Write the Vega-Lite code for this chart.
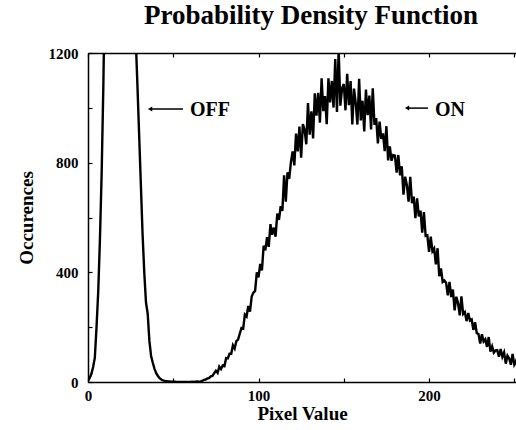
{
  "$schema": "https://vega.github.io/schema/vega-lite/v6.json",
  "width": 428,
  "height": 329,
  "autosize": {"type": "none"},
  "padding": {"left": 88, "top": 53, "right": 0, "bottom": 48},
  "background": "white",
  "title": {
    "text": "Probability Density Function",
    "font": "Liberation Serif",
    "fontSize": 27,
    "fontWeight": "bold",
    "color": "black",
    "anchor": "middle",
    "baseline": "alphabetic",
    "offset": -5,
    "dx": 9
  },
  "config": {
    "view": {"stroke": null},
    "axis": {
      "grid": false,
      "domainColor": "black",
      "domainWidth": 1.5,
      "tickColor": "black",
      "tickWidth": 1.2,
      "tickSize": -4,
      "labelFont": "Liberation Serif",
      "labelFontWeight": "bold",
      "labelFontSize": 15,
      "labelColor": "black",
      "titleFont": "Liberation Serif",
      "titleFontWeight": "bold",
      "titleFontSize": 19,
      "titleColor": "black",
      "labelOverlap": false,
      "labelFlush": false
    }
  },
  "datasets": {
    "hist": [
      {"x":0,"y":5},{"x":1,"y":15},{"x":2,"y":30},{"x":3,"y":55},{"x":4,"y":88},{"x":5,"y":200},{"x":6,"y":330},{"x":7,"y":520},{"x":8,"y":760},{"x":9,"y":1080},
      {"x":10,"y":1500},{"x":11,"y":2000},{"x":12,"y":2600},{"x":13,"y":3200},{"x":14,"y":3800},{"x":15,"y":4300},{"x":16,"y":4600},{"x":17,"y":4800},{"x":18,"y":4800},{"x":19,"y":4600},
      {"x":20,"y":4300},{"x":21,"y":3900},{"x":22,"y":3400},{"x":23,"y":2900},{"x":24,"y":2400},{"x":25,"y":2000},{"x":26,"y":1700},{"x":27,"y":1450},{"x":28,"y":1250},{"x":29,"y":1080},
      {"x":30,"y":900},{"x":31,"y":720},{"x":32,"y":540},{"x":33,"y":400},{"x":34,"y":290},{"x":35,"y":250},{"x":36,"y":150},{"x":37,"y":95},{"x":38,"y":70},{"x":39,"y":48},
      {"x":40,"y":32},{"x":41,"y":22},{"x":42,"y":14},{"x":43,"y":9},{"x":44,"y":6},{"x":45,"y":4},{"x":46,"y":3},{"x":47,"y":2},{"x":48,"y":2},{"x":49,"y":1},
      {"x":50,"y":1},{"x":51,"y":1},{"x":52,"y":0},{"x":53,"y":0},{"x":54,"y":0},{"x":55,"y":0},{"x":56,"y":0},{"x":57,"y":0},{"x":58,"y":0},{"x":59,"y":0},
      {"x":60,"y":0},{"x":61,"y":1},{"x":62,"y":0},{"x":63,"y":1},{"x":64,"y":2},{"x":65,"y":1},{"x":66,"y":2},{"x":67,"y":4},{"x":68,"y":8},{"x":69,"y":9},
      {"x":70,"y":13},{"x":71,"y":14},{"x":72,"y":21},{"x":73,"y":22},{"x":74,"y":32},{"x":75,"y":41},{"x":76,"y":33},{"x":77,"y":56},{"x":78,"y":47},{"x":79,"y":60},
      {"x":80,"y":58},{"x":81,"y":87},{"x":82,"y":86},{"x":83,"y":103},{"x":84,"y":103},{"x":85,"y":134},{"x":86,"y":122},{"x":87,"y":149},{"x":88,"y":155},{"x":89,"y":176},
      {"x":90,"y":197},{"x":91,"y":195},{"x":92,"y":246},{"x":93,"y":239},{"x":94,"y":277},{"x":95,"y":257},{"x":96,"y":312},{"x":97,"y":326},{"x":98,"y":332},{"x":99,"y":400},
      {"x":100,"y":382},{"x":101,"y":431},{"x":102,"y":407},{"x":103,"y":497},{"x":104,"y":480},{"x":105,"y":528},{"x":106,"y":493},{"x":107,"y":576},{"x":108,"y":537},{"x":109,"y":563},
      {"x":110,"y":530},{"x":111,"y":614},{"x":112,"y":591},{"x":113,"y":641},{"x":114,"y":624},{"x":115,"y":754},{"x":116,"y":658},{"x":117,"y":765},{"x":118,"y":741},{"x":119,"y":802},
      {"x":120,"y":841},{"x":121,"y":790},{"x":122,"y":906},{"x":123,"y":841},{"x":124,"y":932},{"x":125,"y":818},{"x":126,"y":941},{"x":127,"y":921},{"x":128,"y":867},{"x":129,"y":1017},
      {"x":130,"y":902},{"x":131,"y":987},{"x":132,"y":888},{"x":133,"y":1053},{"x":134,"y":971},{"x":135,"y":1055},{"x":136,"y":946},{"x":137,"y":1108},{"x":138,"y":988},{"x":139,"y":1043},
      {"x":140,"y":940},{"x":141,"y":1108},{"x":142,"y":1020},{"x":143,"y":1098},{"x":144,"y":1001},{"x":145,"y":1178},{"x":146,"y":985},{"x":147,"y":1213},{"x":148,"y":1008},{"x":149,"y":1071},
      {"x":150,"y":1087},{"x":151,"y":991},{"x":152,"y":1124},{"x":153,"y":1010},{"x":154,"y":1098},{"x":155,"y":939},{"x":156,"y":1070},{"x":157,"y":1017},{"x":158,"y":939},{"x":159,"y":1106},
      {"x":160,"y":954},{"x":161,"y":1026},{"x":162,"y":914},{"x":163,"y":1067},{"x":164,"y":973},{"x":165,"y":1045},{"x":166,"y":921},{"x":167,"y":1071},{"x":168,"y":938},{"x":169,"y":963},
      {"x":170,"y":870},{"x":171,"y":950},{"x":172,"y":887},{"x":173,"y":907},{"x":174,"y":842},{"x":175,"y":933},{"x":176,"y":808},{"x":177,"y":859},{"x":178,"y":807},{"x":179,"y":828},
      {"x":180,"y":826},{"x":181,"y":764},{"x":182,"y":828},{"x":183,"y":754},{"x":184,"y":787},{"x":185,"y":683},{"x":186,"y":749},{"x":187,"y":718},{"x":188,"y":658},{"x":189,"y":748},
      {"x":190,"y":652},{"x":191,"y":676},{"x":192,"y":598},{"x":193,"y":670},{"x":194,"y":604},{"x":195,"y":625},{"x":196,"y":545},{"x":197,"y":620},{"x":198,"y":533},{"x":199,"y":535},
      {"x":200,"y":475},{"x":201,"y":530},{"x":202,"y":477},{"x":203,"y":487},{"x":204,"y":429},{"x":205,"y":488},{"x":206,"y":386},{"x":207,"y":414},{"x":208,"y":365},{"x":209,"y":370},
      {"x":210,"y":362},{"x":211,"y":316},{"x":212,"y":365},{"x":213,"y":310},{"x":214,"y":337},{"x":215,"y":261},{"x":216,"y":311},{"x":217,"y":288},{"x":218,"y":243},{"x":219,"y":312},
      {"x":220,"y":248},{"x":221,"y":255},{"x":222,"y":222},{"x":223,"y":252},{"x":224,"y":224},{"x":225,"y":228},{"x":226,"y":190},{"x":227,"y":218},{"x":228,"y":178},{"x":229,"y":175},
      {"x":230,"y":140},{"x":231,"y":174},{"x":232,"y":148},{"x":233,"y":156},{"x":234,"y":128},{"x":235,"y":164},{"x":236,"y":111},{"x":237,"y":130},{"x":238,"y":107},{"x":239,"y":115},
      {"x":240,"y":116},{"x":241,"y":92},{"x":242,"y":120},{"x":243,"y":92},{"x":244,"y":108},{"x":245,"y":67},{"x":246,"y":96},{"x":247,"y":86},{"x":248,"y":63},{"x":249,"y":102},
      {"x":250,"y":64},{"x":251,"y":77},{"x":252,"y":49},{"x":253,"y":84},{"x":254,"y":62},{"x":255,"y":75}
    ],
    "arrows": [
      {"x1": 36.4, "x2": 55.7, "y": 996},
      {"x1": 187.1, "x2": 199.4, "y": 999}
    ],
    "labels": [
      {"x": 59.8, "y": 970, "t": "OFF"},
      {"x": 203.5, "y": 970, "t": "ON"}
    ]
  },
  "layer": [
    {
      "data": {"name": "hist"},
      "mark": {"type": "line", "color": "black", "strokeWidth": 2.4, "clip": true},
      "encoding": {
        "x": {
          "field": "x", "type": "quantitative",
          "scale": {"domain": [0, 251], "nice": false, "zero": false},
          "axis": {
            "orient": "bottom",
            "title": "Pixel Value",
            "values": [0, 50, 100, 150, 200, 250],
            "labelExpr": "datum.value % 100 == 0 ? datum.label : ''",
            "labelPadding": 10,
            "titlePadding": 1
          }
        },
        "y": {
          "field": "y", "type": "quantitative",
          "scale": {"domain": [0, 1200], "nice": false},
          "axis": {
            "title": "Occurences",
            "values": [0, 200, 400, 600, 800, 1000, 1200],
            "format": "d",
            "labelExpr": "datum.value % 400 == 0 ? datum.label : ''",
            "labelPadding": 14,
            "titlePadding": 12
          }
        }
      }
    },
    {
      "data": {"name": "arrows"},
      "mark": {"type": "rule", "color": "black", "strokeWidth": 1.5},
      "encoding": {
        "x": {
          "field": "x1", "type": "quantitative",
          "axis": {
            "orient": "top",
            "title": null,
            "labels": false,
            "values": [0, 50, 100, 150, 200, 250]
          }
        },
        "x2": {"field": "x2"},
        "y": {"field": "y", "type": "quantitative"}
      }
    },
    {
      "data": {"name": "arrows"},
      "mark": {"type": "point", "shape": "triangle-left", "filled": true, "color": "black", "size": 25, "opacity": 1},
      "encoding": {
        "x": {"field": "x1", "type": "quantitative", "axis": null},
        "y": {"field": "y", "type": "quantitative"}
      }
    },
    {
      "data": {"name": "labels"},
      "mark": {"type": "text", "font": "Liberation Serif", "fontWeight": "bold", "fontSize": 20, "align": "left", "baseline": "alphabetic", "color": "black"},
      "encoding": {
        "x": {"field": "x", "type": "quantitative", "axis": null},
        "y": {"field": "y", "type": "quantitative"},
        "text": {"field": "t"}
      }
    }
  ],
  "resolve": {"axis": {"x": "independent"}}
}
